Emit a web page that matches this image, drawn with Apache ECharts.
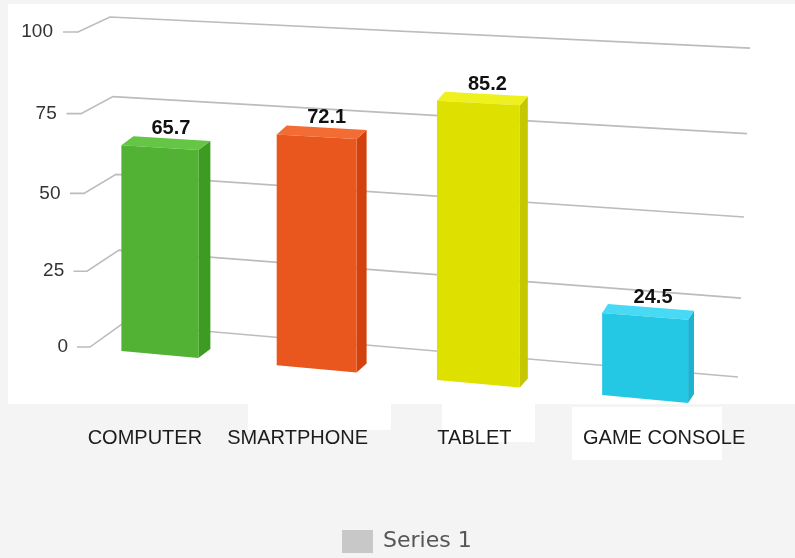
<!DOCTYPE html>
<html><head><meta charset="utf-8">
<script src="https://cdn.jsdelivr.net/npm/echarts@6/dist/echarts.min.js"></script>
<style>html,body{margin:0;padding:0;background:#f4f4f4;}#c{width:795px;height:558px;}</style>
</head><body><div id="c"></div>
<script>
// ---- data ----
const categories = ['COMPUTER', 'SMARTPHONE', 'TABLET', 'GAME CONSOLE'];
const values = [65.7, 72.1, 85.2, 24.5];
const tickValues = [0, 25, 50, 75, 100];
const tickLabels = ['0', '25', '50', '75', '100'];
const seriesName = 'Series 1';
const axisMax = 100;

// ---- styles ----
const COLORS = [
  {front: '#52b234', side: '#3c9c21', top: '#64c644'},
  {front: '#e9571e', side: '#d1420e', top: '#f36c34'},
  {front: '#dee000', side: '#c5c700', top: '#eef11e'},
  {front: '#24c8e4', side: '#1cb2d0', top: '#48d9f4'}
];
const LABEL_DX = [-15, -19, -4, 19];
const FONT = '"Liberation Sans", Arial, sans-serif';

function gridItem(params, api) {
  const v = api.value(0);
  const y0 = api.coord([0, 0])[1];
  const H = y0 - api.coord([0, axisMax])[1];
  const hl = y0 - api.coord([0, v])[1];
  const h = hl * (0.948 + 0.052 * hl / H);
  const t = 1 - hl / H;
  const Yg = x => y0 + 0.086 * (x - 110) - h * (1 + 0.000122 * (x - 110));
  const xL = 110 + 12 * t, xR = 750 - 12 * t;
  const yL = Yg(xL), yR = Yg(xR);
  const yT = yL + 15 + 8 * t;
  const xa = 63 + 14 * t, xb = 78 + 12 * t;
  const lineStyle = {stroke: '#bcbcbc', lineWidth: 1.6, fill: null};
  return {
    type: 'group',
    children: [
      {type: 'polyline', shape: {points: [[xa, yT], [xb, yT], [xL, yL], [xR, yR]]}, style: lineStyle},
      {type: 'text', style: {x: 53 + 15 * t, y: yT, text: tickLabels[params.dataIndex], fill: '#333', font: '19px ' + FONT, align: 'right', verticalAlign: 'middle'}}
    ]
  };
}

function barItem(params, api) {
  const i = api.value(0), v = api.value(1);
  const c0 = api.coord([i, 0]);
  const cv = api.coord([i, v]);
  const band = api.size([1, 0])[0];
  const xFirst = api.coord([0, 0])[0], xLast = api.coord([categories.length - 1, 0])[0];
  const xc = c0[0] + 9.5e-5 * (c0[0] - xFirst) * (c0[0] - xLast);
  const w = band * 0.476 * (1 + 0.00024 * (xc - xFirst));
  const xl = xc - w / 2, xr = xc + w / 2;
  const y0 = c0[1];
  const hl = y0 - cv[1];
  const zeroB = x => y0 + 28 + 0.0915 * (x - 121);
  const sB = x => 1.023 + 0.00015 * (x - 121);
  const Yb = (x, h) => zeroB(x) - h * sB(x);
  const ftl = [xl, Yb(xl, hl)], ftr = [xr, Yb(xr, hl)], fbl = [xl, Yb(xl, 0)], fbr = [xr, Yb(xr, 0)];
  const dx = 12 - 0.0125 * (xr - 198), dy = -9;
  const btl = [ftl[0] + dx, ftl[1] + dy], btr = [ftr[0] + dx, ftr[1] + dy], bbr = [fbr[0] + dx, fbr[1] + dy];
  const col = COLORS[params.dataIndex];
  return {
    type: 'group',
    children: [
      {type: 'polygon', shape: {points: [ftr, fbr, bbr, btr]}, style: {fill: col.side}},
      {type: 'polygon', shape: {points: [ftl, ftr, btr, btl]}, style: {fill: col.top}},
      {type: 'polygon', shape: {points: [ftl, ftr, fbr, fbl]}, style: {fill: col.front}},
      {type: 'text', style: {x: (ftl[0] + btr[0]) / 2 + 5, y: (btl[1] + btr[1]) / 2 - 10,
        text: String(values[params.dataIndex]), fill: '#111', font: 'bold 20px ' + FONT, align: 'center', verticalAlign: 'middle'}},
      {type: 'text', style: {x: xc + LABEL_DX[params.dataIndex], y: y0 + 115,
        text: categories[params.dataIndex], fill: '#1c1c1c', font: '20px ' + FONT, align: 'center', verticalAlign: 'middle'}}
    ]
  };
}

const chart = echarts.init(document.getElementById('c'), null, {renderer: 'canvas'});
chart.setOption({
  animation: false,
  backgroundColor: 'transparent',
  graphic: [
    {type: 'rect', z: 0, shape: {x: 8, y: 4, width: 787, height: 400}, style: {fill: '#fff'}},
    {type: 'rect', z: 0, shape: {x: 248, y: 403, width: 143, height: 27}, style: {fill: '#fff'}},
    {type: 'rect', z: 0, shape: {x: 442, y: 403, width: 93, height: 39}, style: {fill: '#fff'}},
    {type: 'rect', z: 0, shape: {x: 572, y: 407, width: 150, height: 53}, style: {fill: '#fff'}}
  ],
  grid: {left: 79, right: 69, top: 17, bottom: 235},
  xAxis: {type: 'category', data: categories, show: false},
  yAxis: {type: 'value', min: 0, max: axisMax, interval: 25, show: false},
  legend: {
    left: 342, top: 530, padding: 0, itemWidth: 31, itemHeight: 23, icon: 'rect',
    textStyle: {fontFamily: '"DejaVu Sans", sans-serif', fontSize: 22, color: '#555', padding: [0, 0, 0, 5]},
    data: [seriesName]
  },
  series: [
    {type: 'custom', name: 'grid', z: 1, renderItem: gridItem, data: tickValues.map(v => [v]), silent: true},
    {type: 'custom', name: seriesName, z: 3, itemStyle: {color: '#c8c8c8'}, renderItem: barItem,
      data: values.map((v, i) => [i, v])}
  ]
});
</script>
</body></html>
